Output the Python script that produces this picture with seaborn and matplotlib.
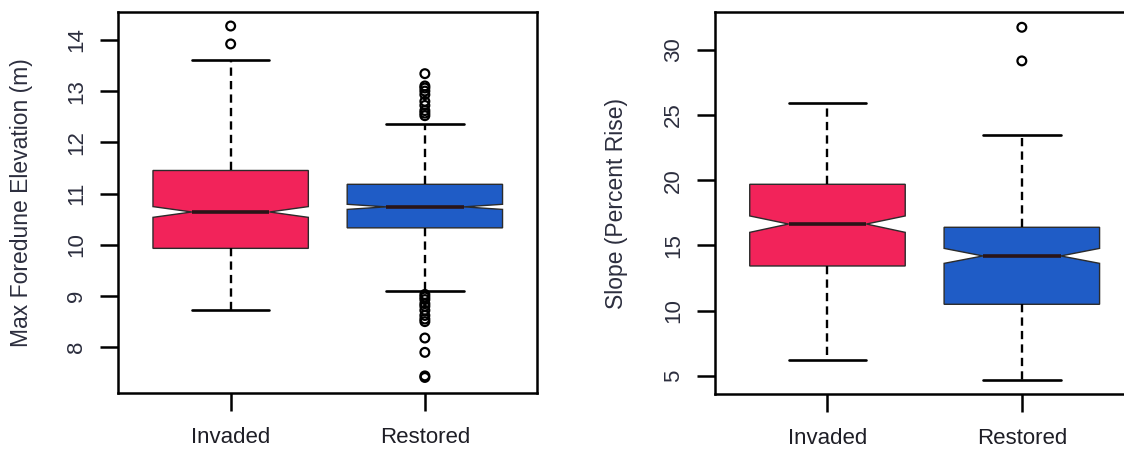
import matplotlib
matplotlib.use("Agg")
import matplotlib.pyplot as plt
import pandas as pd
import seaborn as sns

# Site groups and their fill colours
groups = ["Invaded", "Restored"]
box_colors = ["#F2235A", "#1F5CC6"]

# Maximum foredune elevation (m): box-plot summaries per group
elev_q1 = [9.93, 10.33]
elev_med = [10.64, 10.74]
elev_q3 = [11.45, 11.18]
elev_whislo = [8.73, 9.10]
elev_whishi = [13.60, 12.36]
elev_cilo = [10.535, 10.69]
elev_cihi = [10.745, 10.79]
elev_fliers_invaded = [14.27, 13.92]
elev_fliers_restored = [13.34, 13.10, 13.06, 13.00, 12.93, 12.80, 12.72,
                        12.62, 12.57, 12.52, 9.03, 8.98, 8.93, 8.85, 8.80,
                        8.72, 8.62, 8.55, 8.50, 8.18, 7.90, 7.44, 7.41]

# Foredune slope (percent rise): box-plot summaries per group
slope_q1 = [13.42, 10.48]
slope_med = [16.64, 14.19]
slope_q3 = [19.69, 16.39]
slope_whislo = [6.18, 4.67]
slope_whishi = [25.91, 23.47]
slope_cilo = [16.00, 13.62]
slope_cihi = [17.26, 14.77]
slope_fliers_invaded = []
slope_fliers_restored = [31.74, 29.16]

elev_yticks = [8, 9, 10, 11, 12, 13, 14]
slope_yticks = [5, 10, 15, 20, 25, 30]

sns.set_theme(style="ticks")
plt.rcParams["font.family"] = ["Liberation Sans", "DejaVu Sans"]

TEXT = "#2c2e3e"

fig = plt.figure(figsize=(11.24, 4.49), dpi=100)
fig.patch.set_facecolor("white")
ax1 = fig.add_axes([0.105, 0.124, 0.3732, 0.850])
ax2 = fig.add_axes([0.6359, 0.1218, 0.3735, 0.8508])


def draw_panel(ax, q1, med, q3, wlo, whi, cilo, cihi, fliers, ylabel,
               ylim, yticks, label_x):
    positions = [i + 1 for i in range(len(groups))]
    stats = []
    for i, g in enumerate(groups):
        stats.append(dict(label=g, q1=q1[i], med=med[i], q3=q3[i],
                          whislo=wlo[i], whishi=whi[i],
                          cilo=cilo[i], cihi=cihi[i], fliers=[]))
    art = ax.bxp(stats, positions=positions, widths=0.8, capwidths=0.4,
                 shownotches=True, patch_artist=True, showfliers=False,
                 manage_ticks=False,
                 boxprops=dict(edgecolor="#2b2b2b", linewidth=1.0),
                 whiskerprops=dict(color="black", linewidth=1.7,
                                   linestyle=(0, (3.5, 2.2))),
                 capprops=dict(color="black", linewidth=1.9),
                 medianprops=dict(color="#2a1418", linewidth=2.6))
    for patch, c in zip(art["boxes"], box_colors):
        patch.set_facecolor(c)

    rows = []
    for i, vals in enumerate(fliers):
        for v in vals:
            rows.append({"pos": positions[i], "value": v})
    if rows:
        df = pd.DataFrame(rows)
        sns.scatterplot(data=df, x="pos", y="value", marker="o", s=40,
                        facecolors="none", edgecolor="black",
                        linewidth=1.6, ax=ax, legend=False, zorder=4)

    ax.set_xlim(0.42, 2.58)
    ax.set_ylim(*ylim)
    ax.set_xticks(positions, groups)
    ax.set_yticks(yticks)
    ax.set_xlabel("")
    ax.set_ylabel(ylabel, fontsize=16.5, color=TEXT, va="center")
    ax.yaxis.set_label_coords(label_x, 0.5)
    ax.tick_params(axis="x", length=13, width=1.8, pad=11, labelsize=16,
                   colors="black", labelcolor="#1e1e26")
    ax.tick_params(axis="y", length=13, width=1.8, pad=9, labelsize=16,
                   colors="black", labelcolor=TEXT, labelrotation=90)
    for lab in ax.get_yticklabels():
        lab.set_va("center")
    for sp in ax.spines.values():
        sp.set_visible(True)
        sp.set_color("black")
        sp.set_linewidth(1.8)
    ax.grid(False)
    ax.set_facecolor("white")


draw_panel(ax1, elev_q1, elev_med, elev_q3, elev_whislo, elev_whishi,
           elev_cilo, elev_cihi, [elev_fliers_invaded, elev_fliers_restored],
           "Max Foredune Elevation (m)", (7.10, 14.55), elev_yticks, -0.231)
draw_panel(ax2, slope_q1, slope_med, slope_q3, slope_whislo, slope_whishi,
           slope_cilo, slope_cihi, [slope_fliers_invaded, slope_fliers_restored],
           "Slope (Percent Rise)", (3.57, 32.89), slope_yticks, -0.235)

fig.savefig("out.png", dpi=100, facecolor="white")
